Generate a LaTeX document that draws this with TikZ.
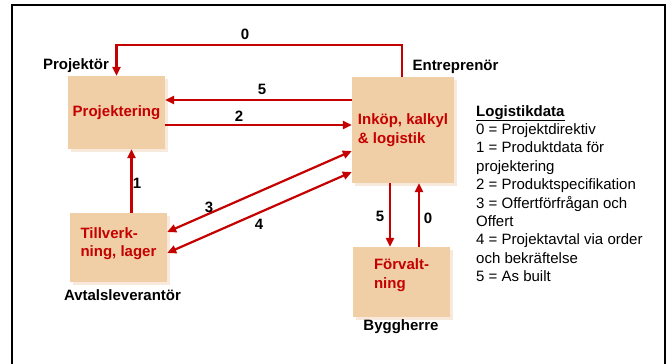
\documentclass[tikz,border=0pt]{standalone}
\usepackage{fontspec}
\setmainfont{Liberation Sans}
\usetikzlibrary{arrows.meta,shadows}
\definecolor{boxfill}{RGB}{240,206,166}
\definecolor{boxshadow}{RGB}{247,234,220}
\definecolor{flowred}{RGB}{196,0,0}
\begin{document}
\begin{tikzpicture}[x=1pt,y=1pt]
% Stilar
\tikzstyle{box} = [rectangle, fill=boxfill, text=flowred, align=left, inner sep=0pt, font=\fontsize{15}{18.5}\selectfont\bfseries, copy shadow={shadow xshift=3pt, shadow yshift=-3pt, fill=boxshadow, draw=none}]
\tikzstyle{role} = [font=\fontsize{15}{18}\selectfont\bfseries]
\tikzstyle{num} = [font=\fontsize{15}{18}\selectfont\bfseries]
\tikzstyle{flow} = [line width=2.2pt, flowred, >={Triangle[length=9pt,width=8pt]}, ->]

\useasboundingbox (0,0) rectangle (672,364);

% Ram
\draw[line width=1.6pt] (12,-5) -- (12,359) -- (665,359) -- (665,-5);

% Processer
\node[box, minimum width=97pt, minimum height=73pt] (proj) at (116.5,251.5) {Projektering};
\node[box, minimum width=102pt, minimum height=106pt] (inkop) at (403,234) {Inköp, kalkyl\\\& logistik};
\node[box, minimum width=97pt, minimum height=69pt, text depth=11pt] (tillv) at (118.5,116.5) {Tillverk-\\ning, lager};
\node[box, minimum width=97pt, minimum height=70pt, text depth=17pt] (forv) at (401.5,82) {Förvalt-\\ning};

% Aktörer
\node[role] (projektor) at (76,298) {Projektör};
\node[role] (entreprenor) at (455.5,297) {Entreprenör};
\node[role] (avtal) at (122.5,69) {Avtalsleverantör};
\node[role] (bygg) at (401,37) {Byggherre};

% Informationsflöden
\draw[flow] ([xshift=-1pt]inkop.north) -- ++(0,32) -| (proj.north);
\node[num] (n0top) at (245,330) {0};

\draw[flow] ([yshift=30pt]inkop.west) -- ([yshift=12.5pt]proj.east);
\node[num] (n5top) at (262,275) {5};

\draw[flow] ([yshift=-12.5pt]proj.east) -- ([yshift=5pt]inkop.west);
\node[num] (n2) at (239,248) {2};

\draw[flow, <->] ([yshift=15.5pt]tillv.east) -- ([yshift=-21pt]inkop.west);
\node[num] (n3) at (209,157) {3};

\draw[flow, <->] ([yshift=-5.5pt]tillv.east) -- ([yshift=-42pt]inkop.west);
\node[num] (n4) at (259,140) {4};

\draw[flow] ([xshift=13pt]tillv.north) -- ([xshift=15pt]proj.south);
\node[num] (n1) at (137,181) {1};

\draw[flow] ([xshift=-13pt]inkop.south) -- ([xshift=-11.5pt]forv.north);
\node[num] (n5low) at (380,148) {5};

\draw[flow] ([xshift=17.5pt]forv.north) -- ([xshift=16pt]inkop.south);
\node[num] (n0low) at (428,146) {0};

% Logistikdata
\node[anchor=north west, align=left, inner sep=0pt, font=\fontsize{15}{18.4}\selectfont] (legend) at (476,259) {
    \textbf{\underline{Logistikdata}}\\
    0 = Projektdirektiv\\
    1 = Produktdata för\\
    projektering\\
    2 = Produktspecifikation\\
    3 = Offertförfrågan och\\
    Offert\\
    4 = Projektavtal via order\\
    och bekräftelse\\
    5 = As built
};
\end{tikzpicture}
\end{document}
